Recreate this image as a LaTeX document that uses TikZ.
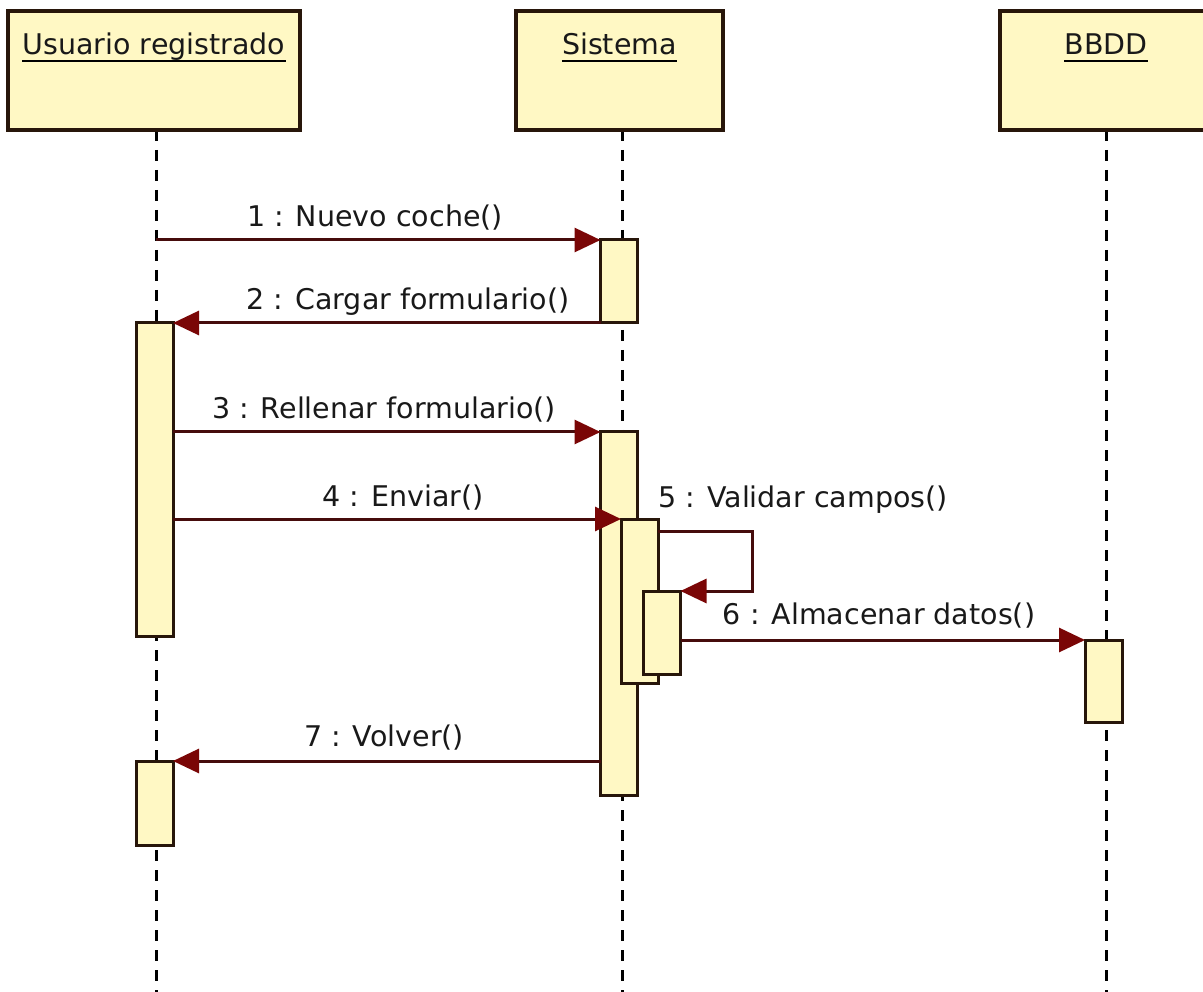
\documentclass[tikz,border=0pt]{standalone}
\usepackage{fontspec}
\setmainfont{DejaVu Sans}
\usetikzlibrary{arrows.meta}
\definecolor{boxfill}{RGB}{255,248,196}
\definecolor{boxline}{RGB}{40,22,10}
\definecolor{msgline}{RGB}{70,12,12}
\definecolor{tipred}{RGB}{122,6,6}
\definecolor{txt}{RGB}{25,25,25}
\tikzset{
  head/.style={draw=boxline, line width=3.4pt, fill=boxfill, minimum height=119pt, inner sep=0pt, outer sep=0pt},
  act/.style={draw=boxline, line width=3pt, fill=boxfill, minimum width=37pt, inner sep=0pt, outer sep=0pt},
  lifeline/.style={draw=black, line width=3pt, dash pattern=on 11pt off 9pt},
  msg/.style={draw=msgline, line width=3pt, -{Triangle[length=26pt,width=24pt,color=tipred]}},
  lbl/.style={font=\fontsize{28.5}{34}\selectfont, text=txt, inner sep=0pt, anchor=base},
  ttl/.style={font=\fontsize{28.5}{34}\selectfont, text=txt, inner sep=0pt, anchor=base},
}
\begin{document}
\begin{tikzpicture}[x=1pt, y=-1pt]
\useasboundingbox (0,0) rectangle (1203,992);
\clip (0,0) rectangle (1203,992);
\fill[white] (0,0) rectangle (1203,992);

% lifelines
\coordinate (uTop) at (156,130);
\coordinate (uBot) at (156,992);
\coordinate (sTop) at (622,130);
\coordinate (sBot) at (622,992);
\coordinate (bTop) at (1106,130);
\coordinate (bBot) at (1106,992);
\draw[lifeline] (uTop) -- (uBot);
\draw[lifeline] (sTop) -- (sBot);
\draw[lifeline] (bTop) -- (bBot);

% heads
\node[head, minimum width=292pt] (hU) at (154,70.5) {};
\node[head, minimum width=207pt] (hS) at (619.5,70.5) {};
\node[head, minimum width=212pt] (hB) at (1106,70.5) {};
\node[ttl] (tU) at (154,55) {Usuario registrado};
\node[ttl] (tS) at (619.5,55) {Sistema};
\node[ttl] (tB) at (1106,55) {BBDD};
\foreach \t in {tU,tS,tB}
  \draw[line width=2.6pt, black] ([yshift=-6pt]\t.base west) -- ([yshift=-6pt]\t.base east);

% activation boxes
\node[act, minimum height=313pt] (U1) at (154.5,479.5) {};
\node[act, minimum height=84pt]  (U2) at (154.5,803) {};
\node[act, minimum height=83pt]  (S1) at (619,281.5) {};
\node[act, minimum height=363pt] (S2) at (619,613.5) {};
\node[act, minimum height=164pt] (S3) at (639.5,601) {};
\node[act, minimum height=83pt]  (S4) at (662,632.5) {};
\node[act, minimum height=82pt]  (B1) at (1103.5,681) {};

% messages
\draw[msg] (uTop |- S1.north west) -- (S1.north west);
\node[lbl] (m1) at (375,227) {1 : Nuevo coche()};

\draw[msg] (S1.south west) -- (U1.north east);
\node[lbl] (m2) at (408,310) {2 : Cargar formulario()};

\draw[msg] (U1.east |- S2.north west) -- (S2.north west);
\node[lbl] (m3) at (384,419) {3 : Rellenar formulario()};

\draw[msg] (U1.east |- S3.north west) -- (S3.north west);
\node[lbl] (m4) at (403,506) {4 : Enviar()};

\coordinate (selfA) at (752,531);
\coordinate (selfB) at (752,591);
\draw[msg] (S3.east |- selfA) -- (selfA) -- (selfB) -- (S4.north east);
\node[lbl] (m5) at (803,507) {5 : Validar campos()};

\draw[msg] (S4.east |- B1.north west) -- (B1.north west);
\node[lbl] (m6) at (879,624) {6 : Almacenar datos()};

\draw[msg] (S2.west |- U2.north east) -- (U2.north east);
\node[lbl] (m7) at (384,746) {7 : Volver()};
\end{tikzpicture}
\end{document}
